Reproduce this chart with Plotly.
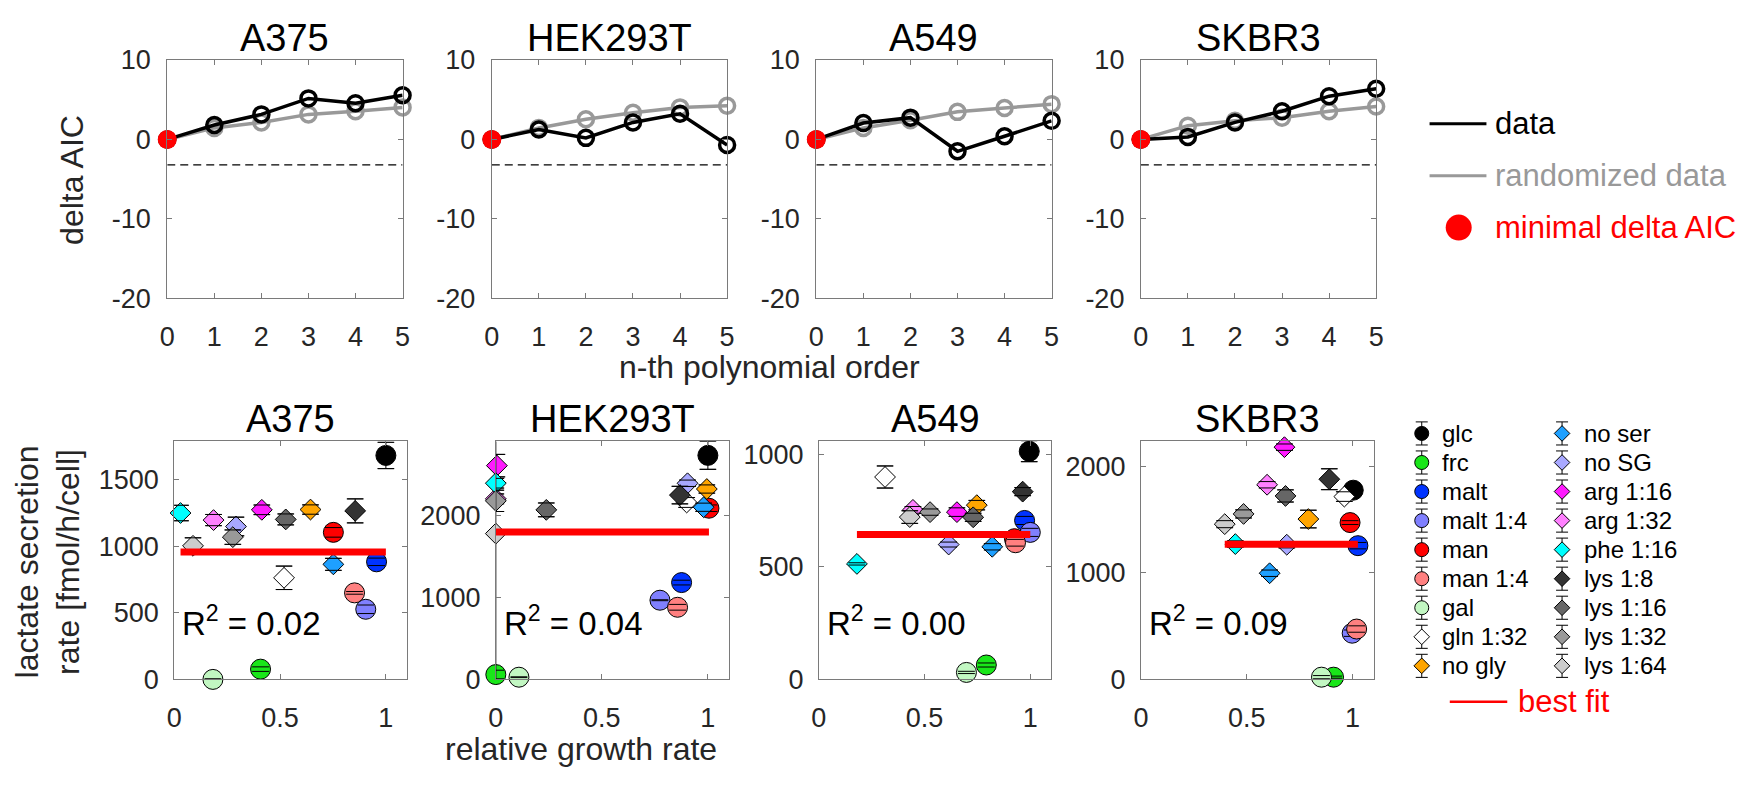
import plotly.graph_objects as go

W, H = 1761, 788

# ---------------- data ----------------
cell_lines = ["A375", "HEK293T", "A549", "SKBR3"]
poly_order = [0, 1, 2, 3, 4, 5]

aic_A375 = [0, 1.81, 3.15, 5.16, 4.56, 5.56]
aic_rand_A375 = [0, 1.45, 2.14, 3.15, 3.55, 4.03]
aic_HEK293T = [0, 1.25, 0.2, 2.14, 3.23, -0.69]
aic_rand_HEK293T = [0, 1.45, 2.54, 3.35, 4.03, 4.23]
aic_A549 = [0, 2.06, 2.74, -1.49, 0.4, 2.34]
aic_rand_A549 = [0, 1.45, 2.42, 3.47, 3.95, 4.44]
aic_SKBR3 = [0, 0.32, 2.14, 3.55, 5.44, 6.37]
aic_rand_SKBR3 = [0, 1.73, 2.34, 2.74, 3.55, 4.15]
aic_threshold = -3.2

conditions = ["glc", "frc", "malt", "malt 1:4", "man", "man 1:4", "gal", "gln 1:32", "no gly",
              "no ser", "no SG", "arg 1:16", "arg 1:32", "phe 1:16", "lys 1:8", "lys 1:16",
              "lys 1:32", "lys 1:64"]
cond_symbols = ["circle"] * 7 + ["diamond"] * 11
cond_colors = ["#000000", "#19e619", "#0033ff", "#8080ff", "#ff0000", "#ff8080", "#c2f7c2",
               "#ffffff", "#ffa500", "#1ea0ff", "#a8a8ff", "#ff1aff", "#ff80ff", "#00ffff",
               "#333333", "#666666", "#999999", "#cccccc"]

growth_A375 = [1.0, 0.408, 0.956, 0.905, 0.752, 0.852, 0.183, 0.519, 0.644,
               0.752, 0.292, 0.414, 0.186, 0.03, 0.855, 0.527, 0.277, 0.089]
lactate_A375 = [1680, 77, 882, 526, 1103, 649, 0, 762, 1274,
                863, 1147, 1272, 1195, 1248, 1264, 1200, 1067, 1002]
err_A375 = [99, 17, 28, 32, 36, 10, 5, 88, 35, 45, 70, 36, 42, 58, 90, 41, 54, 60]

growth_HEK293T = [1.0, 0.0, 0.876, 0.774, 1.005, 0.857, 0.109, 0.9, 0.995,
                  0.98, 0.904, 0.005, 0.0, 0.0, 0.868, 0.238, 0.0, 0.0]
lactate_HEK293T = [2730, 59, 1180, 965, 2086, 879, 27, 2156, 2320,
                   2098, 2390, 2605, 2200, 2391, 2246, 2066, 2176, 1777]
err_HEK293T = [170, 53, 29, 6, 40, 35, 5, 60, 50, 50, 39, 137, 60, 59, 107, 84, 130, 1777]

growth_A549 = [0.995, 0.792, 0.973, 1.0, 0.925, 0.93, 0.698, 0.313, 0.747,
               0.82, 0.614, 0.653, 0.445, 0.18, 0.964, 0.73, 0.526, 0.43]
lactate_A549 = [1013, 64, 706, 653, 625, 607, 31, 899, 774,
                589, 599, 743, 753, 513, 834, 720, 743, 721]
err_A549 = [46, 9, 18, 18, 15, 15, 5, 49, 21, 14, 11, 19, 15, 5, 18, 18, 14, 28]

growth_SKBR3 = [1.003, 0.91, 1.025, 0.998, 0.988, 1.019, 0.853, 0.961, 0.791,
                0.608, 0.689, 0.678, 0.596, 0.446, 0.89, 0.683, 0.485, 0.396]
lactate_SKBR3 = [1777, 21, 1256, 434, 1473, 473, 21, 1717, 1506,
                 997, 1265, 2181, 1828, 1271, 1880, 1723, 1554, 1458]
err_SKBR3 = [40, 10, 30, 30, 18, 30, 15, 45, 83, 30, 30, 30, 30, 30, 98, 57, 38, 33]

r2_values = ["0.02", "0.04", "0.00", "0.09"]
lactate_ymax = [1785, 2900, 1057, 2235]
lactate_ticks = [[0, 500, 1000, 1500], [0, 1000, 2000], [0, 500, 1000], [0, 1000, 2000]]
growth_ticks = [0, 0.5, 1]
growth_ticktext = ["0", "0.5", "1"]
aic_ticks = [-20, -10, 0, 10]
aic_ticktext = ["-20", "-10", "0", "10"]

aic_data = [aic_A375, aic_HEK293T, aic_A549, aic_SKBR3]
aic_rand = [aic_rand_A375, aic_rand_HEK293T, aic_rand_A549, aic_rand_SKBR3]
growth = [growth_A375, growth_HEK293T, growth_A549, growth_SKBR3]
lactate = [lactate_A375, lactate_HEK293T, lactate_A549, lactate_SKBR3]
errs = [err_A375, err_HEK293T, err_A549, err_SKBR3]

# ---------------- layout geometry (pixels) ----------------
top_x = [(160.7, 398.2), (488.2, 725.7), (815.7, 1053.2), (1143.2, 1380.7)]
top_y = (46.7, 294.7)
bot_x = [(167.7, 402.7), (492.3, 727.7), (818.3, 1053.0), (1143.3, 1378.3)]
bot_y = (443.3, 690.7)

FONT = "Arial, Liberation Sans, sans-serif"
TXT = "#262626"
AX = "#7a7a7a"


def pxx(x):
    return x / W


def pxy(y):
    return 1 - y / H


fig = go.Figure()
layout = dict(width=W, height=H, margin=dict(l=0, r=0, t=0, b=0, pad=0), autosize=False,
              paper_bgcolor="white", plot_bgcolor="rgba(0,0,0,0)", showlegend=False,
              font=dict(family=FONT, color=TXT))

axis_common = dict(showline=True, linecolor=AX, linewidth=1, mirror="ticks", ticks="inside",
                   ticklen=5, tickcolor=AX, tickwidth=1, showgrid=False, zeroline=False,
                   tickfont=dict(family=FONT, size=27, color=TXT), fixedrange=True)


def ax_name(kind, n):
    return kind if n == 1 else f"{kind}{n}"


annotations = []

# ---------------- top panels ----------------
for i in range(4):
    n = i + 1
    layout[ax_name("xaxis", n)] = dict(axis_common, domain=[pxx(top_x[i][0]), pxx(top_x[i][1])],
                                       anchor=f"y{n}", range=[0, 5], tickvals=poly_order,
                                       ticklabelstandoff=14)
    layout[ax_name("yaxis", n)] = dict(axis_common, domain=[pxy(top_y[1]), pxy(top_y[0])],
                                       anchor=f"x{n}", range=[-20, 10], tickvals=aic_ticks,
                                       ticktext=aic_ticktext, ticklabelstandoff=10)
    xa, ya = f"x{n}", f"y{n}"
    fig.add_trace(go.Scatter(x=[poly_order[0], poly_order[-1]], y=[aic_threshold, aic_threshold],
                             mode="lines", line=dict(color="black", width=1.2, dash="8px,5px"),
                             xaxis=xa, yaxis=ya, hoverinfo="skip"))
    fig.add_trace(go.Scatter(x=poly_order, y=aic_rand[i], mode="lines+markers",
                             line=dict(color="#999999", width=3.5),
                             marker=dict(symbol="circle-open", size=15, color="#999999",
                                         line=dict(width=3.5, color="#999999")),
                             cliponaxis=False, xaxis=xa, yaxis=ya))
    fig.add_trace(go.Scatter(x=poly_order, y=aic_data[i], mode="lines+markers",
                             line=dict(color="black", width=3.5),
                             marker=dict(symbol="circle-open", size=15, color="black",
                                         line=dict(width=3.5, color="black")),
                             cliponaxis=False, xaxis=xa, yaxis=ya))
    # selected order: first order whose delta AIC drops below the threshold, else order 0
    below = [j for j, v in enumerate(aic_data[i]) if v < aic_threshold]
    k = below[0] if below else 0
    fig.add_trace(go.Scatter(x=[poly_order[k]], y=[aic_data[i][k]], mode="markers",
                             marker=dict(symbol="circle", size=19, color="#ff0000"),
                             cliponaxis=False, xaxis=xa, yaxis=ya))
    annotations.append(dict(text=cell_lines[i], xref="paper", yref="paper",
                            x=pxx((top_x[i][0] + top_x[i][1]) / 2), y=pxy(23.4),
                            xanchor="center", yanchor="middle", showarrow=False,
                            font=dict(size=38, color="black", family=FONT)))

# ---------------- bottom panels ----------------
for i in range(4):
    n = i + 5
    layout[ax_name("xaxis", n)] = dict(axis_common, domain=[pxx(bot_x[i][0]), pxx(bot_x[i][1])],
                                       anchor=f"y{n}", range=[0, 1.1], tickvals=growth_ticks,
                                       ticktext=growth_ticktext, ticklabelstandoff=14)
    layout[ax_name("yaxis", n)] = dict(axis_common, domain=[pxy(bot_y[1]), pxy(bot_y[0])],
                                       anchor=f"x{n}", range=[0, lactate_ymax[i]],
                                       tickvals=lactate_ticks[i], ticklabelstandoff=9)
    xa, ya = f"x{n}", f"y{n}"
    for j, cond in enumerate(conditions):
        g, l, e = growth[i][j], lactate[i][j], errs[i][j]
        circ = cond_symbols[j] == "circle"
        fig.add_trace(go.Scatter(
            x=[g], y=[l], mode="markers", name=cond,
            marker=dict(symbol=cond_symbols[j], size=20 if circ else 16, color=cond_colors[j],
                        line=dict(color="black", width=1)),
            error_y=dict(type="data", array=[e], color="black", thickness=1, width=8),
            cliponaxis=False, xaxis=xa, yaxis=ya))
        fig.add_trace(go.Scatter(
            x=[g, g], y=[l - e, l + e], mode="markers",
            marker=dict(symbol="line-ew", size=12, color="black",
                        line=dict(color="black", width=1)),
            cliponaxis=True, xaxis=xa, yaxis=ya, hoverinfo="skip"))
    mean_l = sum(lactate[i]) / len(lactate[i])
    fig.add_trace(go.Scatter(x=[min(growth[i]), max(growth[i])], y=[mean_l, mean_l],
                             mode="lines", line=dict(color="#ff0000", width=7),
                             cliponaxis=False, xaxis=xa, yaxis=ya))
    annotations.append(dict(text=cell_lines[i], xref="paper", yref="paper",
                            x=pxx((bot_x[i][0] + bot_x[i][1]) / 2), y=pxy(419.7),
                            xanchor="center", yanchor="middle", showarrow=False,
                            font=dict(size=38, color="black", family=FONT)))
    annotations.append(dict(text="R<sup>2</sup> = " + r2_values[i], xref="paper", yref="paper",
                            x=pxx(bot_x[i][0] + 6), y=pxy(630), xanchor="left",
                            yanchor="middle", showarrow=False,
                            font=dict(size=33, color="black", family=FONT)))

# ---------------- overlay axis for legends (pixel coordinates) ----------------
layout["xaxis9"] = dict(domain=[0, 1], range=[0, W], visible=False, anchor="y9", fixedrange=True)
layout["yaxis9"] = dict(domain=[0, 1], range=[H, 0], visible=False, anchor="x9", fixedrange=True)

# top legend
fig.add_trace(go.Scatter(x=[1434.6, 1492], y=[113, 113], mode="lines",
                         line=dict(color="black", width=3), xaxis="x9", yaxis="y9"))
fig.add_trace(go.Scatter(x=[1434.6, 1492], y=[167, 167], mode="lines",
                         line=dict(color="#999999", width=3), xaxis="x9", yaxis="y9"))
fig.add_trace(go.Scatter(x=[1464], y=[221], mode="markers",
                         marker=dict(symbol="circle", size=26, color="#ff0000"),
                         xaxis="x9", yaxis="y9"))
for txt, yy, col in [("data", 113, "black"), ("randomized data", 167, "#999999"),
                     ("minimal delta AIC", 221, "#ff0000")]:
    annotations.append(dict(text=txt, xref="x9", yref="y9", x=1499, y=yy, xanchor="left",
                            yanchor="middle", showarrow=False,
                            font=dict(size=31, color=col, family=FONT)))

# bottom legend
leg_mx = [1426.7, 1568.3]
leg_tx = [1445.0, 1588.3]
for j, cond in enumerate(conditions):
    c, r = divmod(j, 9)
    yy = 435 + 30.2 * r
    circ = cond_symbols[j] == "circle"
    fig.add_trace(go.Scatter(
        x=[leg_mx[c]], y=[yy], mode="markers",
        marker=dict(symbol=cond_symbols[j], size=14 if circ else 12, color=cond_colors[j],
                    line=dict(color="black", width=1)),
        error_y=dict(type="data", array=[12], color="black", thickness=1, width=6),
        xaxis="x9", yaxis="y9"))
    annotations.append(dict(text=cond, xref="x9", yref="y9", x=leg_tx[c], y=yy,
                            xanchor="left", yanchor="middle", showarrow=False,
                            font=dict(size=24, color="black", family=FONT)))
fig.add_trace(go.Scatter(x=[1455, 1513], y=[714, 714], mode="lines",
                         line=dict(color="#ff0000", width=2.5), xaxis="x9", yaxis="y9"))
annotations.append(dict(text="best fit", xref="x9", yref="y9", x=1521.7, y=714,
                        xanchor="left", yanchor="middle", showarrow=False,
                        font=dict(size=31, color="#ff0000", family=FONT)))

# axis titles
annotations.append(dict(text="delta AIC", xref="paper", yref="paper", x=pxx(65), y=pxy(171),
                        textangle=-90, xanchor="center", yanchor="middle", showarrow=False,
                        font=dict(size=32, color=TXT, family=FONT)))
annotations.append(dict(text="n-th polynomial order", xref="paper", yref="paper", x=pxx(768),
                        y=pxy(366), xanchor="center", yanchor="middle", showarrow=False,
                        font=dict(size=32, color=TXT, family=FONT)))
annotations.append(dict(text="lactate secretion<br>rate [fmol/h/cell]", xref="paper",
                        yref="paper", x=pxx(40.5), y=pxy(569), textangle=-90,
                        xanchor="center", yanchor="middle", showarrow=False,
                        font=dict(size=32, color=TXT, family=FONT)))
annotations.append(dict(text="relative growth rate", xref="paper", yref="paper", x=pxx(578),
                        y=pxy(763), xanchor="center", yanchor="middle", showarrow=False,
                        font=dict(size=32, color=TXT, family=FONT)))

layout["annotations"] = annotations
fig.update_layout(**layout)
fig.write_html("out.html", config={"displayModeBar": False},
               post_script="document.body.style.margin='0px';")
